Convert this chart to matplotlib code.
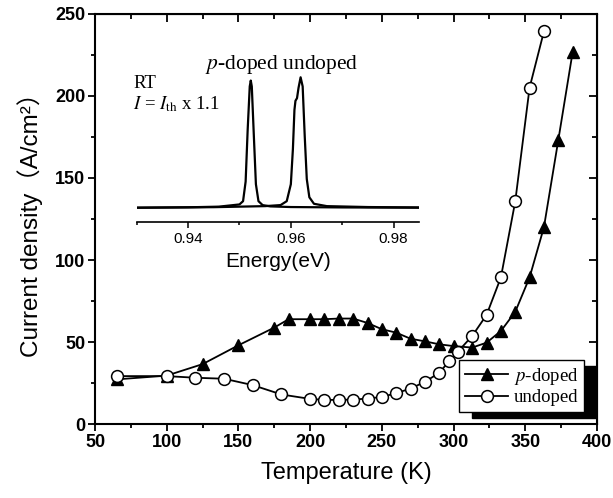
import matplotlib
matplotlib.use("Agg")
import matplotlib.pyplot as plt
from matplotlib.ticker import MultipleLocator

plt.rcParams["mathtext.fontset"] = "stix"

# main panel: current density vs temperature
T_PDOPED = [65, 100, 125, 150, 175, 185, 200, 210, 220, 230, 240, 250, 260,
            270, 280, 290, 300, 313, 323, 333, 343, 353, 363, 373, 383]
J_PDOPED = [27.2, 29.5, 36.5, 48.0, 58.8, 63.9, 63.9, 63.9, 64.3, 64.3, 61.6,
            57.8, 55.7, 52.0, 50.4, 48.6, 47.5, 46.6, 49.6, 56.7, 68.4, 89.4,
            120.0, 173.0, 226.7]

T_UNDOPED = [65, 100, 120, 140, 160, 180, 200, 210, 220, 230, 240, 250, 260,
             270, 280, 290, 297, 303, 313, 323, 333, 343, 353, 363]
J_UNDOPED = [29.2, 29.2, 28.2, 27.6, 23.7, 18.0, 15.3, 14.7, 14.7, 14.9, 15.5,
             16.5, 18.8, 21.6, 25.7, 31.2, 38.4, 44.1, 53.7, 66.5, 89.4, 135.7,
             205.1, 239.4]

# inset: lasing spectra at RT (normalised intensity)
E_SPEC_P = [0.930, 0.940, 0.946, 0.9500, 0.9507, 0.9512, 0.9516, 0.9520,
            0.9522, 0.9524, 0.9528, 0.9532, 0.9537, 0.9545, 0.9560, 0.9600,
            0.9700, 0.985]
I_SPEC_P = [0.000, 0.003, 0.008, 0.025, 0.05, 0.20, 0.60, 0.93,
            0.975, 0.93, 0.55, 0.18, 0.05, 0.02, 0.01, 0.005,
            0.002, 0.000]

E_SPEC_U = [0.930, 0.945, 0.955, 0.958, 0.9592, 0.9600, 0.9604, 0.9607,
            0.9609, 0.9612, 0.9615, 0.9619, 0.9623, 0.9627, 0.9631, 0.9636,
            0.9645, 0.967, 0.975, 0.985]
I_SPEC_U = [0.000, 0.004, 0.012, 0.02, 0.05, 0.18, 0.45, 0.75,
            0.82, 0.84, 0.92, 1.00, 0.93, 0.55, 0.22, 0.08,
            0.03, 0.012, 0.005, 0.002]

W, H = 613, 498
SANS = "Liberation Sans"
SERIF = "Liberation Serif"

fig = plt.figure(figsize=(W / 100, H / 100), dpi=100)
ax = fig.add_axes([95 / W, 1 - 424 / H, (597 - 95) / W, (424 - 14) / H])

ax.plot(T_PDOPED, J_PDOPED, color="black", lw=1.3, marker="^", ms=8,
        mfc="black", mec="black", label="$p$-doped", zorder=3)
ax.plot(T_UNDOPED, J_UNDOPED, color="black", lw=1.3, marker="o", ms=8.5,
        mfc="white", mec="black", mew=1.1, label="undoped", zorder=4)

ax.set_xlim(50, 400)
ax.set_ylim(0, 250)
ax.xaxis.set_major_locator(MultipleLocator(50))
ax.xaxis.set_minor_locator(MultipleLocator(25))
ax.yaxis.set_major_locator(MultipleLocator(50))
ax.yaxis.set_minor_locator(MultipleLocator(25))
ax.tick_params(which="both", direction="out", top=False, right=False, width=1.3)
ax.tick_params(which="major", length=5, labelsize=13, pad=2)
ax.tick_params(which="minor", length=3)
for lab in ax.get_xticklabels() + ax.get_yticklabels():
    lab.set_fontfamily(SANS)
    lab.set_fontweight("bold")
for sp in ax.spines.values():
    sp.set_linewidth(1.5)

# top / right ticks point inward
secx = ax.secondary_xaxis("top")
secx.xaxis.set_major_locator(MultipleLocator(50))
secx.xaxis.set_minor_locator(MultipleLocator(25))
secx.tick_params(which="both", direction="in", labeltop=False, width=1.3)
secx.tick_params(which="major", length=6)
secx.tick_params(which="minor", length=3.5)
secy = ax.secondary_yaxis("right")
secy.yaxis.set_major_locator(MultipleLocator(50))
secy.yaxis.set_minor_locator(MultipleLocator(25))
secy.tick_params(which="both", direction="in", labelright=False, width=1.3)
secy.tick_params(which="major", length=6)
secy.tick_params(which="minor", length=3.5)

ax.set_xlabel("Temperature (K)", fontsize=17, family=SANS, labelpad=8)
ax.set_ylabel("Current density\uff08A/cm\u00b2\uff09", fontsize=17.5,
              family=[SANS, "Noto Sans CJK SC"], labelpad=9)

leg = ax.legend(loc="lower right", bbox_to_anchor=(0.974, 0.029),
                borderaxespad=0, fancybox=False, edgecolor="black",
                framealpha=1, prop={"family": SERIF, "size": 13.5},
                handlelength=2.3, handletextpad=0.3, borderpad=0.3,
                labelspacing=0.15,
                shadow={"ox": 9, "oy": -4.5, "color": "black", "alpha": 1})
leg.get_frame().set_linewidth(1.0)

# inset spectrum
ins = fig.add_axes([136.7 / W, 1 - 222.3 / H, (419.3 - 136.7) / W,
                    (222.3 - 70) / H])
ins.plot(E_SPEC_P, I_SPEC_P, color="black", lw=1.6)
ins.plot(E_SPEC_U, I_SPEC_U, color="black", lw=1.6)
ins.set_xlim(0.93, 0.985)
ins.set_ylim(-0.112, 1.056)
ins.patch.set_alpha(0)
for side in ("top", "right", "left"):
    ins.spines[side].set_visible(False)
ins.spines["bottom"].set_linewidth(1.2)
ins.set_yticks([])
ins.xaxis.set_major_locator(MultipleLocator(0.02))
ins.xaxis.set_minor_locator(MultipleLocator(0.01))
ins.tick_params(which="both", direction="out", width=1.1)
ins.tick_params(which="major", length=4, labelsize=11, pad=3)
ins.tick_params(which="minor", length=2.5)
for lab in ins.get_xticklabels():
    lab.set_fontfamily(SANS)
ins.set_xlabel("Energy(eV)", fontsize=15, family=SANS, labelpad=4)

fig.text(205 / W, 1 - 64 / H, "$p$-doped undoped", family=SERIF, fontsize=15.5,
         va="center", ha="left")
fig.text(133 / W, 1 - 83 / H, "RT", family=SERIF, fontsize=13.5,
         va="center", ha="left")
fig.text(133 / W, 1 - 104 / H, r"$I$ = $I_{\rm th}$ x 1.1", family=SERIF,
         fontsize=13.5, va="center", ha="left")

fig.savefig("out.png", dpi=100)
